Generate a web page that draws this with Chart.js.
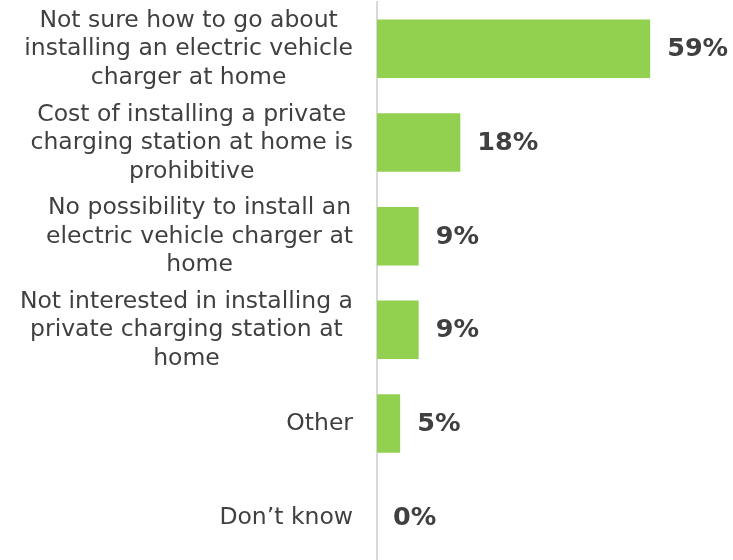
<!DOCTYPE html>
<html lang="en">
<head>
    <meta charset="UTF-8">
    <script src="https://cdn.jsdelivr.net/npm/chart.js"></script>
    <title>Home charging</title>
    <style>
        html, body {
            margin: 0;
            padding: 0;
            overflow: hidden;
            background: #ffffff;
        }
        #wrap {
            width: 733px;
            height: 564px;
        }
    </style>
</head>
<body>
    <div id="wrap"><canvas id="barChart"></canvas></div>

    <script>
        const categories = [
            ['Not sure how to go about', 'installing an electric vehicle', 'charger at home'],
            ['Cost of installing a private', 'charging station at home is', 'prohibitive'],
            ['No possibility to install an', 'electric vehicle charger at', 'home'],
            ['Not interested in installing a', 'private charging station at', 'home'],
            ['Other'],
            ['Don\u2019t know']
        ];
        const shares = [59, 18, 9, 9, 5, 0];
        const shareLabels = ['59%', '18%', '9%', '9%', '5%', '0%'];

        const textColor = '#404040';

        // category text is centred line by line, block right-aligned to the axis (Excel style)
        const labelPlugin = {
            id: 'labelPlugin',
            afterDatasetsDraw(chart) {
                const ctx = chart.ctx;
                const yScale = chart.scales.y;
                const xScale = chart.scales.x;
                const lineH = 28.5;
                ctx.save();
                ctx.fillStyle = textColor;
                ctx.textBaseline = 'middle';

                ctx.font = '23.5px "DejaVu Sans", sans-serif';
                ctx.textAlign = 'center';
                categories.forEach((lines, i) => {
                    const yc = yScale.getPixelForValue(i);
                    const widest = Math.max(...lines.map(l => ctx.measureText(l).width));
                    const cx = chart.chartArea.left - 24 - widest / 2;
                    const y0 = yc - (lines.length - 1) * lineH / 2 + 0.5;
                    lines.forEach((l, j) => ctx.fillText(l, cx, y0 + j * lineH));
                });

                ctx.font = 'bold 25.5px "DejaVu Sans", sans-serif';
                ctx.textAlign = 'left';
                shares.forEach((v, i) => {
                    const x = xScale.getPixelForValue(v) + (v > 0 ? 17 : 16);
                    ctx.fillText(shareLabels[i], x, yScale.getPixelForValue(i) + 1);
                });
                ctx.restore();
            }
        };

        new Chart(document.getElementById('barChart'), {
            type: 'bar',
            data: {
                labels: categories,
                datasets: [{
                    data: shares,
                    backgroundColor: '#92d050',
                    borderWidth: 0,
                    categoryPercentage: 1,
                    barPercentage: 0.625
                }]
            },
            options: {
                indexAxis: 'y',
                responsive: true,
                maintainAspectRatio: false,
                animation: false,
                layout: {
                    padding: { left: 377, right: 0, top: 2, bottom: 0 }
                },
                plugins: {
                    legend: { display: false },
                    tooltip: { enabled: false }
                },
                scales: {
                    x: {
                        display: false,
                        min: 0,
                        max: 76.9
                    },
                    y: {
                        display: true,
                        ticks: { display: false },
                        grid: { display: false, drawTicks: false },
                        border: { display: true, color: '#d9d9d9', width: 2 }
                    }
                }
            },
            plugins: [labelPlugin]
        });
    </script>
</body>
</html>
